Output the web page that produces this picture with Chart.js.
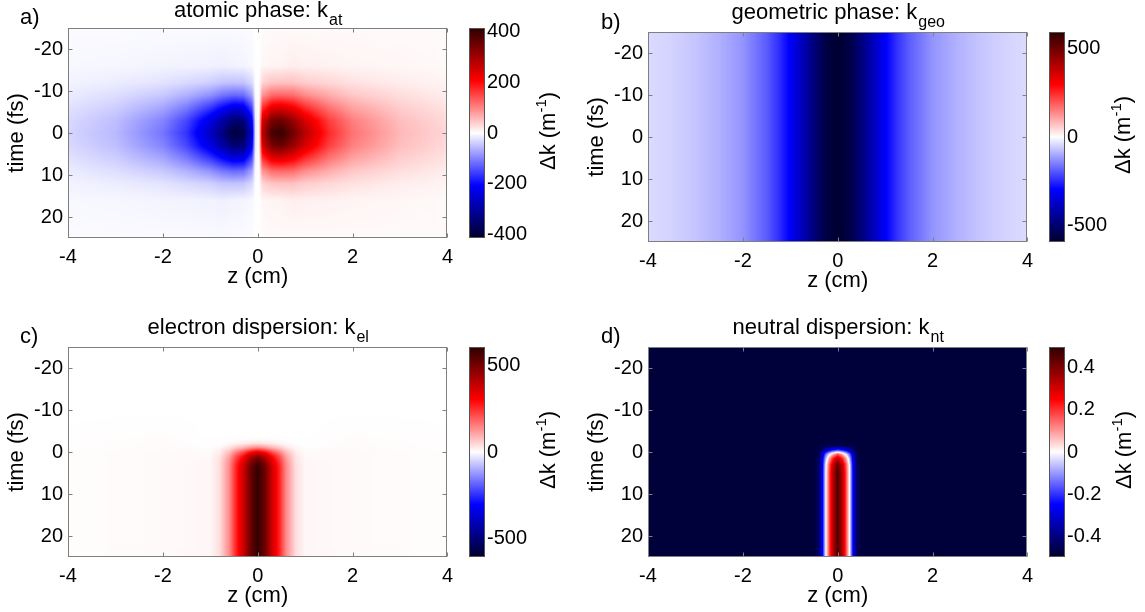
<!DOCTYPE html>
<html>
<head>
<meta charset="utf-8">
<script src="https://cdn.jsdelivr.net/npm/chart.js@4.4.1/dist/chart.umd.min.js"></script>
<style>
  html, body { margin: 0; padding: 0; background: #fff; }
  #fig { position: relative; width: 1145px; height: 612px; overflow: hidden; background: #fff; }
  #fig canvas { position: absolute; }
</style>
</head>
<body>
<div id="fig"></div>
<script>
// ── Axes (z in cm, t in fs) ──────────────────────────────────────────
const Z_TICKS = [-4, -2, 0, 2, 4];
const T_TICKS = [-20, -10, 0, 10, 20];

// ── (a) atomic phase k_at, Δk in m^-1 : rows = T_A, columns = Z_A ────
const Z_A = [-4, -3, -2, -1.5, -1, -0.75, -0.5, -0.3, -0.12, -0.05, 0.03, 0.1, 0.3, 0.5, 0.75, 1, 1.5, 2, 3, 4];
const T_A = [-25, -16, -12, -9, -6, -3, 0, 3, 6, 9, 12, 16, 25];
const K_AT = [
  [-4, -4, -4, -4, -4, -4, -4, -4, -3, 0, 0, 3, 4, 4, 4, 4, 4, 4, 4, 4],
  [-6, -7, -9, -10, -11, -13, -10, -9, -6, -1, 0, 7, 9, 10, 14, 12, 11, 9, 7, 5],
  [-10, -15, -23, -31, -39, -48, -50, -48, -31, -2, 1, 35, 48, 50, 51, 41, 33, 24, 15, 9],
  [-16, -27, -45, -64, -90, -112, -124, -119, -77, -5, 3, 87, 121, 125, 119, 95, 68, 46, 27, 15],
  [-24, -40, -73, -108, -164, -203, -237, -228, -148, -11, 6, 166, 231, 240, 216, 173, 114, 76, 41, 23],
  [-31, -52, -100, -150, -235, -292, -351, -338, -219, -17, 9, 246, 342, 355, 309, 247, 158, 104, 53, 30],
  [-34, -57, -112, -167, -267, -332, -400, -385, -250, -20, 10, 280, 390, 405, 350, 280, 175, 115, 58, 33],
  [-31, -52, -100, -150, -235, -292, -351, -338, -219, -17, 9, 246, 342, 355, 309, 247, 158, 104, 53, 30],
  [-24, -40, -73, -108, -164, -203, -237, -228, -148, -11, 6, 166, 231, 240, 216, 173, 114, 76, 41, 23],
  [-16, -27, -45, -64, -90, -112, -124, -119, -77, -5, 3, 87, 121, 125, 119, 95, 68, 46, 27, 15],
  [-10, -15, -23, -31, -39, -48, -50, -48, -31, -2, 1, 35, 48, 50, 51, 41, 33, 24, 15, 9],
  [-6, -7, -9, -10, -11, -13, -10, -9, -6, -1, 0, 7, 9, 10, 14, 12, 11, 9, 7, 5],
  [-4, -4, -4, -4, -4, -4, -4, -4, -3, 0, 0, 3, 4, 4, 4, 4, 4, 4, 4, 4],
];
const CB_A = [-400, -200, 0, 200, 400];

// ── (b) geometric phase k_geo (no time dependence) ──────────────────
const Z_B = [-4, -3.5, -3, -2.5, -2, -1.5, -1.25, -1, -0.75, -0.5, -0.25, 0, 0.25, 0.5, 0.75, 1, 1.25, 1.5, 2, 2.5, 3, 3.5, 4];
const T_B = [-25, 25];
const K_GEO_Z = [-42, -52, -68, -92, -125, -190, -240, -305, -395, -485, -560, -590, -560, -485, -395, -305, -240, -190, -125, -92, -68, -52, -42];
const K_GEO = [K_GEO_Z, K_GEO_Z];
const CB_B = [-500, 0, 500];

// ── (c) electron dispersion k_el ────────────────────────────────────
const Z_C = [-4, -2, -1, -0.8, -0.6, -0.45, -0.3, -0.15, 0, 0.15, 0.3, 0.45, 0.6, 0.8, 1, 2, 4];
const T_C = [-25, -10, -4, -3, -2, -1, 0, 1, 2, 3, 4, 25];
const K_EL = [
  [0, 0, 0, 0, 0, 0, 0, 0, 0, 0, 0, 0, 0, 0, 0, 0, 0],
  [0, 0, 0, 0, 0, 0, 0, 0, 0, 0, 0, 0, 0, 0, 0, 0, 0],
  [1, 3, 0, 0, 0, 0, 0, 0, 0, 0, 0, 0, 0, 0, 0, 3, 1],
  [2, 4, 1, 1, 1, 3, 4, 5, 6, 5, 4, 3, 1, 1, 1, 4, 2],
  [2, 5, 1, 2, 8, 16, 23, 31, 36, 31, 23, 16, 8, 2, 1, 5, 2],
  [2, 5, 3, 10, 35, 68, 95, 130, 150, 130, 95, 68, 35, 10, 3, 5, 2],
  [3, 6, 6, 22, 77, 149, 209, 286, 330, 286, 209, 149, 77, 22, 6, 6, 3],
  [3, 6, 8, 31, 109, 211, 296, 406, 468, 406, 296, 211, 109, 31, 8, 6, 3],
  [3, 6, 9, 36, 126, 243, 342, 468, 540, 468, 342, 243, 126, 36, 9, 6, 3],
  [3, 6, 10, 39, 136, 262, 369, 504, 582, 504, 369, 262, 136, 39, 10, 6, 3],
  [3, 6, 10, 40, 140, 270, 380, 520, 600, 520, 380, 270, 140, 40, 10, 6, 3],
  [3, 6, 10, 40, 140, 270, 380, 520, 600, 520, 380, 270, 140, 40, 10, 6, 3],
];
const CB_C = [-500, 0, 500];

// ── (d) neutral dispersion k_nt ─────────────────────────────────────
const Z_D = [-4, -0.5, -0.4, -0.32, -0.25, -0.17, -0.1, 0, 0.1, 0.17, 0.25, 0.32, 0.4, 0.5, 4];
const T_D = [-25, -3, -1.5, -0.5, 0.5, 1.5, 3, 5, 25];
const K_NT = [
  [-0.48, -0.48, -0.48, -0.48, -0.48, -0.48, -0.48, -0.48, -0.48, -0.48, -0.48, -0.48, -0.48, -0.48, -0.48],
  [-0.48, -0.48, -0.48, -0.48, -0.48, -0.48, -0.48, -0.48, -0.48, -0.48, -0.48, -0.48, -0.48, -0.48, -0.48],
  [-0.48, -0.48, -0.48, -0.47, -0.47, -0.46, -0.46, -0.45, -0.46, -0.46, -0.47, -0.47, -0.48, -0.48, -0.48],
  [-0.48, -0.48, -0.47, -0.41, -0.34, -0.28, -0.24, -0.20, -0.24, -0.28, -0.34, -0.41, -0.47, -0.48, -0.48],
  [-0.48, -0.48, -0.45, -0.32, -0.15, -0.02, 0.07, 0.16, 0.07, -0.02, -0.15, -0.32, -0.45, -0.48, -0.48],
  [-0.48, -0.48, -0.44, -0.28, -0.07, 0.10, 0.21, 0.32, 0.21, 0.10, -0.07, -0.28, -0.44, -0.48, -0.48],
  [-0.48, -0.48, -0.43, -0.26, -0.01, 0.18, 0.31, 0.43, 0.31, 0.18, -0.01, -0.26, -0.43, -0.48, -0.48],
  [-0.48, -0.48, -0.43, -0.25, 0.00, 0.20, 0.33, 0.46, 0.33, 0.20, 0.00, -0.25, -0.43, -0.48, -0.48],
  [-0.48, -0.48, -0.43, -0.25, 0.00, 0.20, 0.33, 0.46, 0.33, 0.20, 0.00, -0.25, -0.43, -0.48, -0.48],
];
const CB_D = [-0.4, -0.2, 0, 0.2, 0.4];

// ── Global style ─────────────────────────────────────────────────────
const FONT = '"Liberation Sans", Arial, sans-serif';
const TICK_PX = 20;    // tick labels
const LABEL_PX = 22;   // titles and axis labels
Chart.defaults.font.family = FONT;
Chart.defaults.font.size = TICK_PX;
Chart.defaults.color = '#000';

const BOX = '#7f7f7f';
const DARK = 45;   // darkest channel value at both ends of the colour map

// blue - white - red map, v scaled to [-lim, lim]
function shade(v, lim) {
  const s = Math.max(-1, Math.min(1, v / lim));
  const m = Math.abs(s);
  let hi, lo;
  if (m <= 0.5) { hi = 255; lo = 255 * (1 - m / 0.5); }
  else { hi = 255 - (255 - DARK) * (m - 0.5) / 0.5; lo = 0; }
  return s >= 0 ? [hi, lo, lo] : [lo, lo, hi];
}

function locate(arr, v) {
  const n = arr.length - 1;
  if (v <= arr[0]) return [0, 0];
  if (v >= arr[n]) return [n - 1, 1];
  let i = 0;
  while (arr[i + 1] < v) i++;
  return [i, (v - arr[i]) / (arr[i + 1] - arr[i])];
}

// pcolor-like layer, bilinear shading between grid nodes
function heatLayer(zs, ts, grid, lim) {
  return {
    id: 'heatLayer',
    beforeDatasetsDraw(chart) {
      const { ctx, chartArea: a, scales: { x, y } } = chart;
      const x0 = Math.round(a.left), y0 = Math.round(a.top);
      const w = Math.round(a.right) - x0, h = Math.round(a.bottom) - y0;
      const img = ctx.createImageData(w, h);
      const cols = [];
      for (let i = 0; i < w; i++) cols.push(locate(zs, x.getValueForPixel(x0 + i + 0.5)));
      for (let j = 0; j < h; j++) {
        const [r, fr] = locate(ts, y.getValueForPixel(y0 + j + 0.5));
        const g0 = grid[r], g1 = grid[r + 1];
        for (let i = 0; i < w; i++) {
          const [c, fc] = cols[i];
          const top = g0[c] + (g0[c + 1] - g0[c]) * fc;
          const bot = g1[c] + (g1[c + 1] - g1[c]) * fc;
          const rgb = shade(top + (bot - top) * fr, lim);
          const p = (j * w + i) * 4;
          img.data[p] = rgb[0]; img.data[p + 1] = rgb[1]; img.data[p + 2] = rgb[2]; img.data[p + 3] = 255;
        }
      }
      ctx.putImageData(img, x0, y0);
    }
  };
}

// box round the axes with inward ticks on all four sides
const frame = {
  id: 'frame',
  afterDatasetsDraw(chart) {
    const { ctx, chartArea: a, scales: { x, y } } = chart;
    const L = Math.round(a.left) + 0.5, R = Math.round(a.right) - 0.5;
    const T = Math.round(a.top) + 0.5, B = Math.round(a.bottom) - 0.5;
    ctx.save();
    ctx.strokeStyle = BOX;
    ctx.lineWidth = 1;
    ctx.strokeRect(L, T, R - L, B - T);
    ctx.beginPath();
    x.ticks.forEach(t => {
      const px = Math.round(x.getPixelForValue(t.value)) + 0.5;
      ctx.moveTo(px, B); ctx.lineTo(px, B - 4);
      ctx.moveTo(px, T); ctx.lineTo(px, T + 4);
    });
    y.ticks.forEach(t => {
      const py = Math.round(y.getPixelForValue(t.value)) + 0.5;
      ctx.moveTo(L, py); ctx.lineTo(L + 4, py);
      ctx.moveTo(R, py); ctx.lineTo(R - 4, py);
    });
    ctx.stroke();
    ctx.restore();
  }
};

// panel letter and a title of the form "text: k" + subscript
function panelText(tag, main, sub, titleY, tagX, tagY) {
  return {
    id: 'panelText',
    afterDraw(chart) {
      const { ctx, chartArea: a } = chart;
      const big = LABEL_PX + 'px ' + FONT, small = '16px ' + FONT;
      ctx.save();
      ctx.fillStyle = '#000';
      ctx.textBaseline = 'alphabetic';
      ctx.textAlign = 'left';
      ctx.font = big;
      const w1 = ctx.measureText(main).width;
      ctx.font = small;
      const w2 = ctx.measureText(sub).width;
      const x = (a.left + a.right) / 2 - (w1 + w2) / 2;
      ctx.font = big;
      ctx.fillText(main, x, titleY);
      ctx.font = small;
      ctx.fillText(sub, x + w1 + 1, titleY + 8);
      ctx.font = big;
      ctx.fillText(tag, tagX, tagY);
      ctx.restore();
    }
  };
}

const FIG = document.getElementById('fig');
function addCanvas(left, top, width, height) {
  const c = document.createElement('canvas');
  c.width = width; c.height = height;
  c.style.left = left + 'px'; c.style.top = top + 'px';
  c.style.width = width + 'px'; c.style.height = height + 'px';
  FIG.appendChild(c);
  return c;
}

function fixedTicks(list) {
  return s => { s.ticks = list.map(value => ({ value })); };
}

function mapPanel(p) {
  const canvas = addCanvas(p.left, p.top, 460, 300);
  return new Chart(canvas, {
    type: 'scatter',
    data: { datasets: [] },
    options: {
      responsive: false,
      animation: false,
      devicePixelRatio: 1,
      events: [],
      layout: { autoPadding: false, padding: { left: 0, top: p.padTop, right: p.padRight, bottom: p.padBottom } },
      plugins: { legend: { display: false }, tooltip: { enabled: false } },
      scales: {
        x: {
          type: 'linear', min: -4, max: 4,
          afterBuildTicks: fixedTicks(Z_TICKS),
          afterFit: s => { s.height = 52; },
          grid: { display: false, drawTicks: false },
          border: { display: false },
          ticks: { padding: 7, maxRotation: 0 },
          title: { display: true, text: 'z (cm)', padding: 0, font: { size: LABEL_PX } },
        },
        y: {
          type: 'linear', reverse: true, min: -25, max: 25,
          afterBuildTicks: fixedTicks(T_TICKS),
          afterFit: s => { s.width = 68; },
          grid: { display: false, drawTicks: false },
          border: { display: false },
          ticks: { padding: 5 },
          title: { display: true, text: 'time (fs)', padding: { top: 4, bottom: 0 }, font: { size: LABEL_PX } },
        },
      },
    },
    plugins: [heatLayer(p.z, p.t, p.k, p.lim), frame, panelText(p.tag, p.title, p.sub, p.titleY, p.tagX, p.tagY)],
  });
}

// colour bar: gradient painted row by row through its own y scale
function colourBar(p) {
  const canvas = addCanvas(p.left, p.top, 105, 300);
  const bar = {
    id: 'bar',
    beforeDatasetsDraw(chart) {
      const { ctx, chartArea: a, scales: { y } } = chart;
      const x0 = Math.round(a.left), w = Math.round(a.right) - x0;
      for (let py = Math.round(a.top); py < Math.round(a.bottom); py++) {
        const c = shade(y.getValueForPixel(py + 0.5), p.lim);
        ctx.fillStyle = `rgb(${c[0] | 0},${c[1] | 0},${c[2] | 0})`;
        ctx.fillRect(x0, py, w, 1);
      }
      ctx.save();
      ctx.strokeStyle = '#555';
      ctx.lineWidth = 1;
      ctx.strokeRect(x0 + 0.5, Math.round(a.top) + 0.5, w - 1, Math.round(a.bottom) - Math.round(a.top) - 1);
      ctx.restore();
    },
    afterDraw(chart) {
      const { ctx, chartArea: a } = chart;
      const big = LABEL_PX + 'px ' + FONT, small = '15px ' + FONT;
      ctx.save();
      ctx.translate(p.labelX, (a.top + a.bottom) / 2 - 2);
      ctx.rotate(-Math.PI / 2);
      ctx.fillStyle = '#000';
      ctx.textBaseline = 'alphabetic';
      ctx.textAlign = 'left';
      ctx.font = big;
      const w1 = ctx.measureText('Δk (m').width;
      const w3 = ctx.measureText(')').width;
      ctx.font = small;
      const w2 = ctx.measureText('-1').width;
      const x = -(w1 + w2 + w3) / 2;
      ctx.font = big;
      ctx.fillText('Δk (m', x, 8);
      ctx.font = small;
      ctx.fillText('-1', x + w1, -1);
      ctx.font = big;
      ctx.fillText(')', x + w1 + w2, 8);
      ctx.restore();
    }
  };
  return new Chart(canvas, {
    type: 'scatter',
    data: { datasets: [] },
    options: {
      responsive: false,
      animation: false,
      devicePixelRatio: 1,
      events: [],
      layout: { autoPadding: false, padding: { left: 9, top: p.padTop, right: 0, bottom: p.padBottom } },
      plugins: { legend: { display: false }, tooltip: { enabled: false } },
      scales: {
        x: { display: false, min: 0, max: 1 },
        y: {
          type: 'linear', position: 'right', min: -p.lim, max: p.lim,
          afterBuildTicks: fixedTicks(p.ticks),
          afterFit: s => { s.width = 80; },
          grid: { display: false, drawTicks: false },
          border: { display: false },
          ticks: { padding: 2 },
        },
      },
    },
    plugins: [bar],
  });
}

mapPanel({ left: 0, top: 0, padTop: 28, padRight: 8, padBottom: 10, z: Z_A, t: T_A, k: K_AT, lim: 415,
  tag: 'a)', title: 'atomic phase: k', sub: 'at', titleY: 17, tagX: 20, tagY: 24 });
mapPanel({ left: 580, top: 0, padTop: 32, padRight: 7, padBottom: 6, z: Z_B, t: T_B, k: K_GEO, lim: 595,
  tag: 'b)', title: 'geometric phase: k', sub: 'geo', titleY: 19, tagX: 21, tagY: 29 });
mapPanel({ left: 0, top: 315, padTop: 32, padRight: 8, padBottom: 6, z: Z_C, t: T_C, k: K_EL, lim: 610,
  tag: 'c)', title: 'electron dispersion: k', sub: 'el', titleY: 19, tagX: 20, tagY: 28 });
mapPanel({ left: 580, top: 315, padTop: 32, padRight: 7, padBottom: 6, z: Z_D, t: T_D, k: K_NT, lim: 0.496,
  tag: 'd)', title: 'neutral dispersion: k', sub: 'nt', titleY: 19, tagX: 21, tagY: 28 });

colourBar({ left: 460, top: 0, padTop: 28, padBottom: 62, lim: 415, ticks: CB_A, labelX: 87 });
colourBar({ left: 1040, top: 0, padTop: 32, padBottom: 58, lim: 595, ticks: CB_B, labelX: 82 });
colourBar({ left: 460, top: 315, padTop: 32, padBottom: 58, lim: 610, ticks: CB_C, labelX: 87 });
colourBar({ left: 1040, top: 315, padTop: 32, padBottom: 58, lim: 0.496, ticks: CB_D, labelX: 83 });
</script>
</body>
</html>
